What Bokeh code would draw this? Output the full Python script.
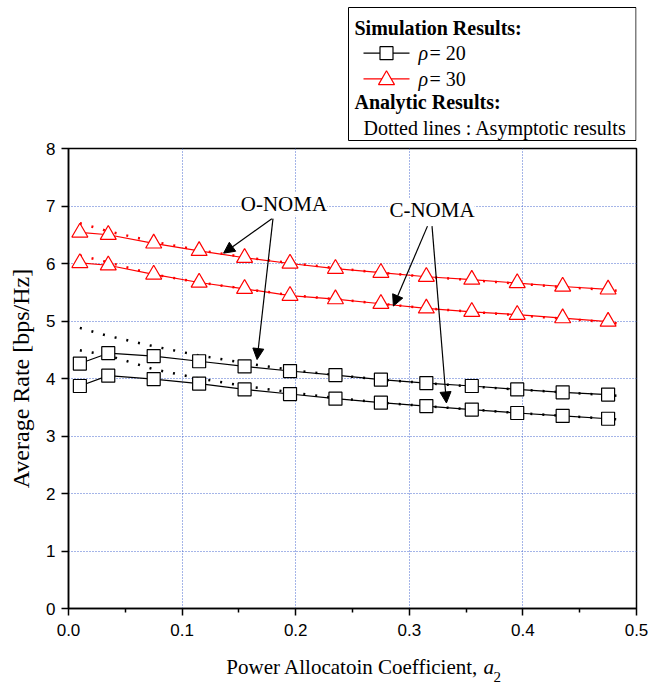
from bokeh.plotting import figure
from bokeh.layouts import column
from bokeh.models import (Range1d, FixedTicker, PrintfTickFormatter, Label, Arrow, NormalHead)
from bokeh.embed import file_html
from bokeh.resources import INLINE

# ---------------- data ----------------
a2_sim = [0.01, 0.035, 0.075, 0.115, 0.155, 0.195, 0.235, 0.275, 0.315, 0.355, 0.395, 0.435, 0.475]
a2_asym = [0.01, 0.035, 0.075, 0.115, 0.155, 0.195, 0.235, 0.275, 0.315, 0.355, 0.395, 0.435, 0.475, 0.49]

sim_onoma_rho30 = [6.54, 6.50, 6.35, 6.22, 6.10, 6.00, 5.91, 5.84, 5.77, 5.72, 5.66, 5.60, 5.55]
sim_cnoma_rho30 = [6.01, 5.97, 5.81, 5.67, 5.56, 5.44, 5.38, 5.30, 5.22, 5.16, 5.11, 5.05, 4.99]
sim_onoma_rho20 = [4.26, 4.44, 4.39, 4.30, 4.21, 4.13, 4.06, 3.98, 3.92, 3.87, 3.81, 3.76, 3.72]
sim_cnoma_rho20 = [3.87, 4.05, 3.99, 3.91, 3.81, 3.73, 3.65, 3.58, 3.52, 3.46, 3.40, 3.35, 3.30]

asym_onoma_rho30 = [6.70, 6.56, 6.38, 6.23, 6.11, 6.01, 5.92, 5.84, 5.77, 5.71, 5.65, 5.59, 5.54, 5.51]
asym_cnoma_rho30 = [6.14, 6.02, 5.81, 5.67, 5.56, 5.45, 5.38, 5.30, 5.22, 5.16, 5.10, 5.04, 4.98, 4.94]
asym_onoma_rho20 = [4.88, 4.74, 4.56, 4.40, 4.27, 4.15, 4.06, 3.98, 3.92, 3.86, 3.81, 3.76, 3.71, 3.69]
asym_cnoma_rho20 = [4.49, 4.40, 4.16, 4.00, 3.87, 3.76, 3.66, 3.58, 3.52, 3.46, 3.40, 3.35, 3.30, 3.28]

x_ticks = [0.0, 0.1, 0.2, 0.3, 0.4, 0.5]
x_minor_ticks = [0.05, 0.15, 0.25, 0.35, 0.45]
y_ticks = [0, 1, 2, 3, 4, 5, 6, 7, 8]

rho_symbol = "\u03c1"
rho_values = ["= 20", "= 30"]
header_sim = "Simulation Results:"
header_ana = "Analytic Results:"
note_ana = "Dotted lines : Asymptotic results"
x_label_main = "Power Allocatoin Coefficient,"
x_label_sym = "a"
x_label_sub = "2"
y_label = "Average Rate [bps/Hz]"

SERIF = "Liberation Serif"
SANS = "Liberation Sans"
RED = "#ff0000"
W = 651
FRAME_L, FRAME_R = 68, 636          # page pixels of the plot frame (shared by all strips)
BORDER_L, BORDER_R = FRAME_L, W - FRAME_R


def strip(height):
    """A figure without axes whose data coordinates are page pixels (frame-aligned)."""
    f = figure(width=W, height=height, x_range=Range1d(FRAME_L, FRAME_R),
               y_range=Range1d(height, 0), x_axis_type=None, y_axis_type=None,
               output_backend="svg", toolbar_location=None,
               min_border_left=BORDER_L, min_border_right=BORDER_R,
               min_border_top=0, min_border_bottom=0)
    f.outline_line_color = None
    f.grid.visible = False
    f.background_fill_color = "white"
    f.border_fill_color = "white"
    return f


def tlabel(fig, x, y, text, size="20px", style="normal", align="left", baseline="middle"):
    fig.add_layout(Label(x=x, y=y, text=text, text_align=align, text_baseline=baseline,
                         text_font=SERIF, text_font_size=size, text_font_style=style,
                         text_color="black"))


# ---------------- legend box (top strip) ----------------
TOP_H = 141
top = strip(TOP_H)
top.quad(left=[348], right=[635.5], top=[7], bottom=[140], fill_color="white",
         line_color="black", line_width=1)
top.line([363, 409], [52.7, 52.7], line_color="black", line_width=1.2)
top.scatter([386], [52.7], marker="square", size=13, line_color="black", fill_color="white",
            line_width=1.2)
top.line([363, 409], [78.3, 78.3], line_color=RED, line_width=1.2)
top.scatter([386], [79.5], marker="triangle", size=16, line_color=RED, fill_color="white",
            line_width=1.2)

tlabel(top, 354, 27, header_sim, style="bold")
tlabel(top, 418, 52.7, rho_symbol, style="italic")
tlabel(top, 429, 52.7, rho_values[0])
tlabel(top, 418, 78.3, rho_symbol, style="italic")
tlabel(top, 429, 78.3, rho_values[1])
tlabel(top, 354, 101.7, header_ana, style="bold")
tlabel(top, 363, 127.7, note_ana)

# ---------------- main plot ----------------
p = figure(width=W, height=505, x_range=Range1d(0, 0.5), y_range=Range1d(0, 8),
           output_backend="svg", toolbar_location=None,
           min_border_left=BORDER_L, min_border_right=BORDER_R, min_border_top=7,
           min_border_bottom=38)

p.outline_line_color = "black"
p.outline_line_width = 1.5
p.background_fill_color = "white"
p.border_fill_color = "white"

p.xaxis.ticker = FixedTicker(ticks=x_ticks, minor_ticks=x_minor_ticks)
p.yaxis.ticker = FixedTicker(ticks=y_ticks)
p.xaxis.formatter = PrintfTickFormatter(format="%.1f")

for ax in (p.xaxis, p.yaxis):
    ax.axis_line_width = 1.5
    ax.axis_line_color = "black"
    ax.major_tick_line_width = 1.5
    ax.major_tick_line_color = "black"
    ax.major_tick_in = 0
    ax.major_tick_out = 7
    ax.minor_tick_in = 0
    ax.minor_tick_out = 4
    ax.minor_tick_line_width = 1.5
    ax.minor_tick_line_color = "black"
    ax.major_label_text_font = SANS
    ax.major_label_text_font_size = "17px"
    ax.major_label_text_color = "black"

p.yaxis.minor_tick_line_color = None
p.xaxis.major_label_standoff = 8
p.yaxis.major_label_standoff = 6
p.yaxis.axis_label = y_label
p.yaxis.axis_label_text_font = SERIF
p.yaxis.axis_label_text_font_size = "24px"
p.yaxis.axis_label_text_font_style = "normal"
p.yaxis.axis_label_text_color = "black"
p.yaxis.axis_label_standoff = 9

for g in (p.xgrid, p.ygrid):
    g.grid_line_color = "#4a6bd0"
    g.grid_line_dash = "1 2"
    g.grid_line_width = 1

# simulation curves
p.line(a2_sim, sim_onoma_rho30, line_color=RED, line_width=1.2)
p.line(a2_sim, sim_cnoma_rho30, line_color=RED, line_width=1.2)
p.line(a2_sim, sim_onoma_rho20, line_color="black", line_width=1.2)
p.line(a2_sim, sim_cnoma_rho20, line_color="black", line_width=1.2)

# asymptotic (dotted)
p.line(a2_asym, asym_onoma_rho30, line_color=RED, line_width=2.5, line_dash="2 10")
p.line(a2_asym, asym_cnoma_rho30, line_color=RED, line_width=2.5, line_dash="2 10")
p.line(a2_asym, asym_onoma_rho20, line_color="black", line_width=2.5, line_dash="2 10")
p.line(a2_asym, asym_cnoma_rho20, line_color="black", line_width=2.5, line_dash="2 10")

p.scatter(a2_sim, sim_onoma_rho30, marker="triangle", size=16, line_color=RED,
          fill_color="white", line_width=1.2)
p.scatter(a2_sim, sim_cnoma_rho30, marker="triangle", size=16, line_color=RED,
          fill_color="white", line_width=1.2)
p.scatter(a2_sim, sim_onoma_rho20, marker="square", size=13, line_color="black",
          fill_color="white", line_width=1.2)
p.scatter(a2_sim, sim_cnoma_rho20, marker="square", size=13, line_color="black",
          fill_color="white", line_width=1.2)


def arrow(xs, ys, xe, ye):
    p.add_layout(Arrow(end=NormalHead(size=11, fill_color="black", line_color="black", line_width=1),
                       x_start=xs, y_start=ys, x_end=xe, y_end=ye,
                       line_color="black", line_width=1.2))


arrow(0.179, 6.78, 0.1365, 6.18)
arrow(0.180, 6.78, 0.166, 4.33)
arrow(0.316, 6.65, 0.286, 5.26)
arrow(0.320, 6.65, 0.3327, 3.575)

p.add_layout(Label(x=0.1896, y=7.04, text="O-NOMA", text_align="center", text_baseline="middle",
                   text_font=SERIF, text_font_size="21px", text_color="black",
                   background_fill_color="white", background_fill_alpha=1))
p.add_layout(Label(x=0.320, y=6.93, text="C-NOMA", text_align="center", text_baseline="middle",
                   text_font=SERIF, text_font_size="21px", text_color="black",
                   background_fill_color="white", background_fill_alpha=1))

# ---------------- x-axis title strip ----------------
BOT_H = 40
bot = strip(BOT_H)
tlabel(bot, 478, 20, x_label_main, size="21px", align="right", baseline="alphabetic")
tlabel(bot, 483, 20, x_label_sym, size="21px", style="italic", baseline="alphabetic")
tlabel(bot, 493, 30, x_label_sub, size="15px", baseline="alphabetic")

layout = column(top, p, bot, spacing=0)
open("out.html", "w").write(file_html(layout, INLINE))
